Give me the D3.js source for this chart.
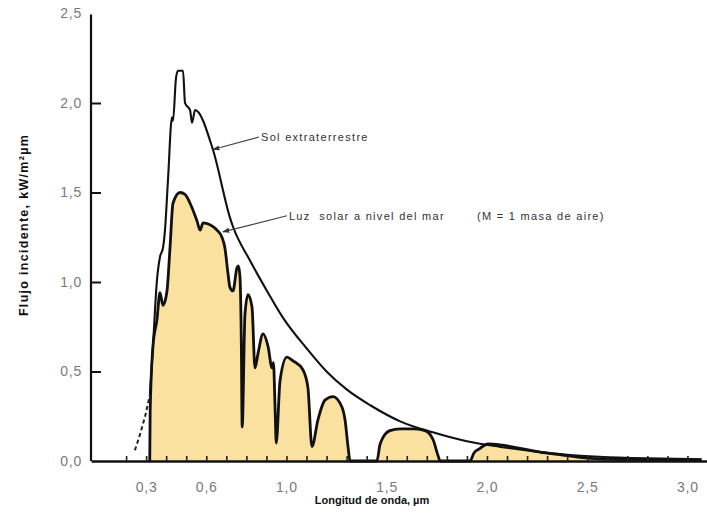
<!DOCTYPE html>
<html>
<head>
<meta charset="utf-8">
<script src="https://cdn.jsdelivr.net/npm/d3@7"></script>
<style>
  body { margin: 0; background: #fff; }
  svg { display: block; font-family: "Liberation Sans", Arial, sans-serif; }
</style>
</head>
<body>
<div id="chart"></div>
<script>
// extraterrestrial spectrum [wavelength um, kW/m2um]
let etDashed = [[0.244, 0.06], [0.27, 0.15], [0.295, 0.25], [0.319, 0.37]];
let extraterrestre = [
  [0.319, 0.37], [0.334, 0.64], [0.354, 1.01], [0.369, 1.14], [0.384, 1.19],
  [0.394, 1.29], [0.409, 1.57], [0.429, 1.92], [0.434, 1.90], [0.449, 2.14],
  [0.459, 2.18], [0.484, 2.18], [0.494, 2.00], [0.519, 1.96], [0.529, 1.89],
  [0.544, 1.96], [0.633, 1.74], [0.718, 1.36], [0.733, 1.31], [0.818, 1.12],
  [0.903, 0.95], [0.983, 0.80], [1.10, 0.63], [1.20, 0.50], [1.30, 0.40],
  [1.42, 0.31], [1.57, 0.22], [1.73, 0.16], [1.90, 0.11], [2.06, 0.08],
  [2.23, 0.055], [2.40, 0.035], [2.56, 0.024], [2.80, 0.015], [3.07, 0.01]
];

// sea level spectrum, M = 1
let nivelMar = [
  [0.318, 0], [0.320, 0.27], [0.334, 0.64], [0.354, 0.79], [0.369, 0.94],
  [0.384, 0.87], [0.404, 0.95], [0.419, 1.19], [0.434, 1.44], [0.469, 1.50],
  [0.494, 1.49], [0.519, 1.44], [0.554, 1.34], [0.569, 1.29], [0.584, 1.33],
  [0.653, 1.29], [0.678, 1.25], [0.693, 1.19], [0.708, 1.05], [0.718, 0.97],
  [0.733, 0.95], [0.753, 1.08], [0.760, 1.09], [0.768, 1.03], [0.775, 0.64],
  [0.779, 0.19], [0.793, 0.82], [0.808, 0.93], [0.828, 0.86], [0.843, 0.52],
  [0.858, 0.60], [0.883, 0.71], [0.908, 0.64], [0.928, 0.52], [0.935, 0.55],
  [0.943, 0.30], [0.949, 0.10], [0.968, 0.45], [1.002, 0.58], [1.032, 0.56],
  [1.082, 0.51], [1.107, 0.41], [1.127, 0.08], [1.157, 0.23], [1.192, 0.34],
  [1.232, 0.36], [1.277, 0.30], [1.292, 0.23], [1.307, 0.08], [1.317, 0],
  [1.451, 0], [1.466, 0.09], [1.481, 0.13], [1.516, 0.17], [1.566, 0.18],
  [1.641, 0.18], [1.691, 0.17], [1.731, 0.12], [1.756, 0.03], [1.766, 0],
  [1.915, 0], [1.935, 0.045], [1.965, 0.07], [2.005, 0.095], [2.065, 0.09],
  [2.165, 0.07], [2.264, 0.05], [2.364, 0.035], [2.464, 0.02], [2.564, 0.012],
  [2.80, 0.008], [3.07, 0.006]
];

let xLabels = [0.3, 0.6, 1.0, 1.5, 2.0, 2.5, 3.0];
let xMinorTicks = d3.range(2, 31).map(d => d / 10);
let yLabels = [0, 0.5, 1.0, 1.5, 2.0, 2.5];
let yTicks = [0.5, 1.0, 1.5, 2.0];

// annotations: arrow tip on curve, text start
let notes = [
  { text: "Sol extraterrestre", tip: [0.633, 1.74], at: [0.873, 1.81] },
  { text: "Luz  solar a nivel del mar", tip: [0.683, 1.28], at: [1.012, 1.37] },
  { text: "(M = 1 masa de aire)", tip: null, at: [1.95, 1.37] }
];

let width = 707, height = 514;
let comma = d => d3.format(".1f")(d).replace(".", ",");

let x = d3.scaleLinear().domain([0.025, 3.1]).range([91, 707.5]);
let y = d3.scaleLinear().domain([0, 2.5]).range([461, 13.5]);

const svg = d3.select("#chart").append("svg")
  .attr("width", width)
  .attr("height", height);

svg.append("defs").append("marker")
  .attr("id", "arrow")
  .attr("viewBox", "0 0 10 10")
  .attr("refX", 9).attr("refY", 5)
  .attr("markerWidth", 6).attr("markerHeight", 6)
  .attr("orient", "auto")
  .append("path")
  .attr("d", "M0,1.5 L10,5 L0,8.5 Z")
  .attr("fill", "#333");

let area = d3.area()
  .x(d => x(d[0]))
  .y0(y(0))
  .y1(d => y(d[1]))
  .curve(d3.curveMonotoneX);

let line = d3.line()
  .x(d => x(d[0]))
  .y(d => y(d[1]));

svg.append("path")
  .datum(nivelMar)
  .attr("d", area)
  .attr("fill", "#fae19f");

svg.append("path")
  .datum(nivelMar)
  .attr("d", line.curve(d3.curveMonotoneX))
  .attr("fill", "none")
  .attr("stroke", "#111")
  .attr("stroke-width", 2.8)
  .attr("stroke-linejoin", "round");

svg.append("path")
  .datum(extraterrestre)
  .attr("d", line.curve(d3.curveMonotoneX))
  .attr("fill", "none")
  .attr("stroke", "#111")
  .attr("stroke-width", 2.1)
  .attr("stroke-linejoin", "round");

svg.append("path")
  .datum(etDashed)
  .attr("d", line.curve(d3.curveLinear))
  .attr("fill", "none")
  .attr("stroke", "#222")
  .attr("stroke-width", 2)
  .attr("stroke-dasharray", "4,3");

// x axis: minor ticks upward, then labels
svg.append("g")
  .attr("transform", `translate(0 ${y(0)})`)
  .call(d3.axisBottom(x).tickValues(xMinorTicks).tickSizeInner(-5).tickSizeOuter(0).tickFormat(""))
  .call(g => g.select(".domain").attr("stroke", "#111").attr("stroke-width", 2.5))
  .call(g => g.selectAll(".tick line").attr("stroke", "#222").attr("stroke-width", 1.6));

svg.append("g")
  .attr("transform", `translate(0 ${y(0)})`)
  .call(d3.axisBottom(x).tickValues(xLabels).tickSize(0).tickPadding(21).tickFormat(comma))
  .call(g => g.select(".domain").remove())
  .call(g => g.selectAll("text")
    .attr("fill", "#7a7a7a")
    .style("font-size", "14px")
    .style("letter-spacing", "0.8px"));

// y axis
svg.append("g")
  .attr("transform", `translate(${x(0.025)} 0)`)
  .call(d3.axisLeft(y).tickValues(yTicks).tickSizeInner(-10).tickSizeOuter(0).tickFormat(""))
  .call(g => g.select(".domain").attr("stroke", "#111").attr("stroke-width", 2.2)
    .attr("d", `M0,${y(0)}V${y(2.5) + 1}`))
  .call(g => g.selectAll(".tick line").attr("stroke", "#111").attr("stroke-width", 2));

svg.append("g")
  .attr("transform", `translate(${x(0.025)} 0)`)
  .call(d3.axisLeft(y).tickValues(yLabels).tickSize(0).tickPadding(9).tickFormat(comma))
  .call(g => g.select(".domain").remove())
  .call(g => g.selectAll("text")
    .attr("fill", "#7a7a7a")
    .style("font-size", "14px")
    .style("letter-spacing", "0.8px"));

// axis titles
svg.append("text")
  .attr("x", 372)
  .attr("y", 504)
  .attr("text-anchor", "middle")
  .style("font-size", "11px")
  .style("font-weight", "bold")
  .attr("fill", "#111")
  .text("Longitud de onda, µm");

svg.append("text")
  .attr("transform", "translate(28 225) rotate(-90)")
  .attr("text-anchor", "middle")
  .style("font-size", "12.5px")
  .style("font-weight", "bold")
  .style("letter-spacing", "1.3px")
  .attr("fill", "#111")
  .text("Flujo incidente, kW/m²µm");

// annotations
notes.forEach(n => {
  if (n.tip) {
    svg.append("line")
      .attr("x1", x(n.at[0]) - 2)
      .attr("y1", y(n.at[1]))
      .attr("x2", x(n.tip[0]))
      .attr("y2", y(n.tip[1]))
      .attr("stroke", "#444")
      .attr("stroke-width", 1.2)
      .attr("marker-end", "url(#arrow)");
  }
  svg.append("text")
    .attr("x", x(n.at[0]))
    .attr("y", y(n.at[1]))
    .attr("dy", "0.35em")
    .style("font-size", "11px")
    .style("letter-spacing", "1.3px")
    .style("white-space", "pre")
    .attr("fill", "#333")
    .text(n.text);
});
</script>
</body>
</html>
